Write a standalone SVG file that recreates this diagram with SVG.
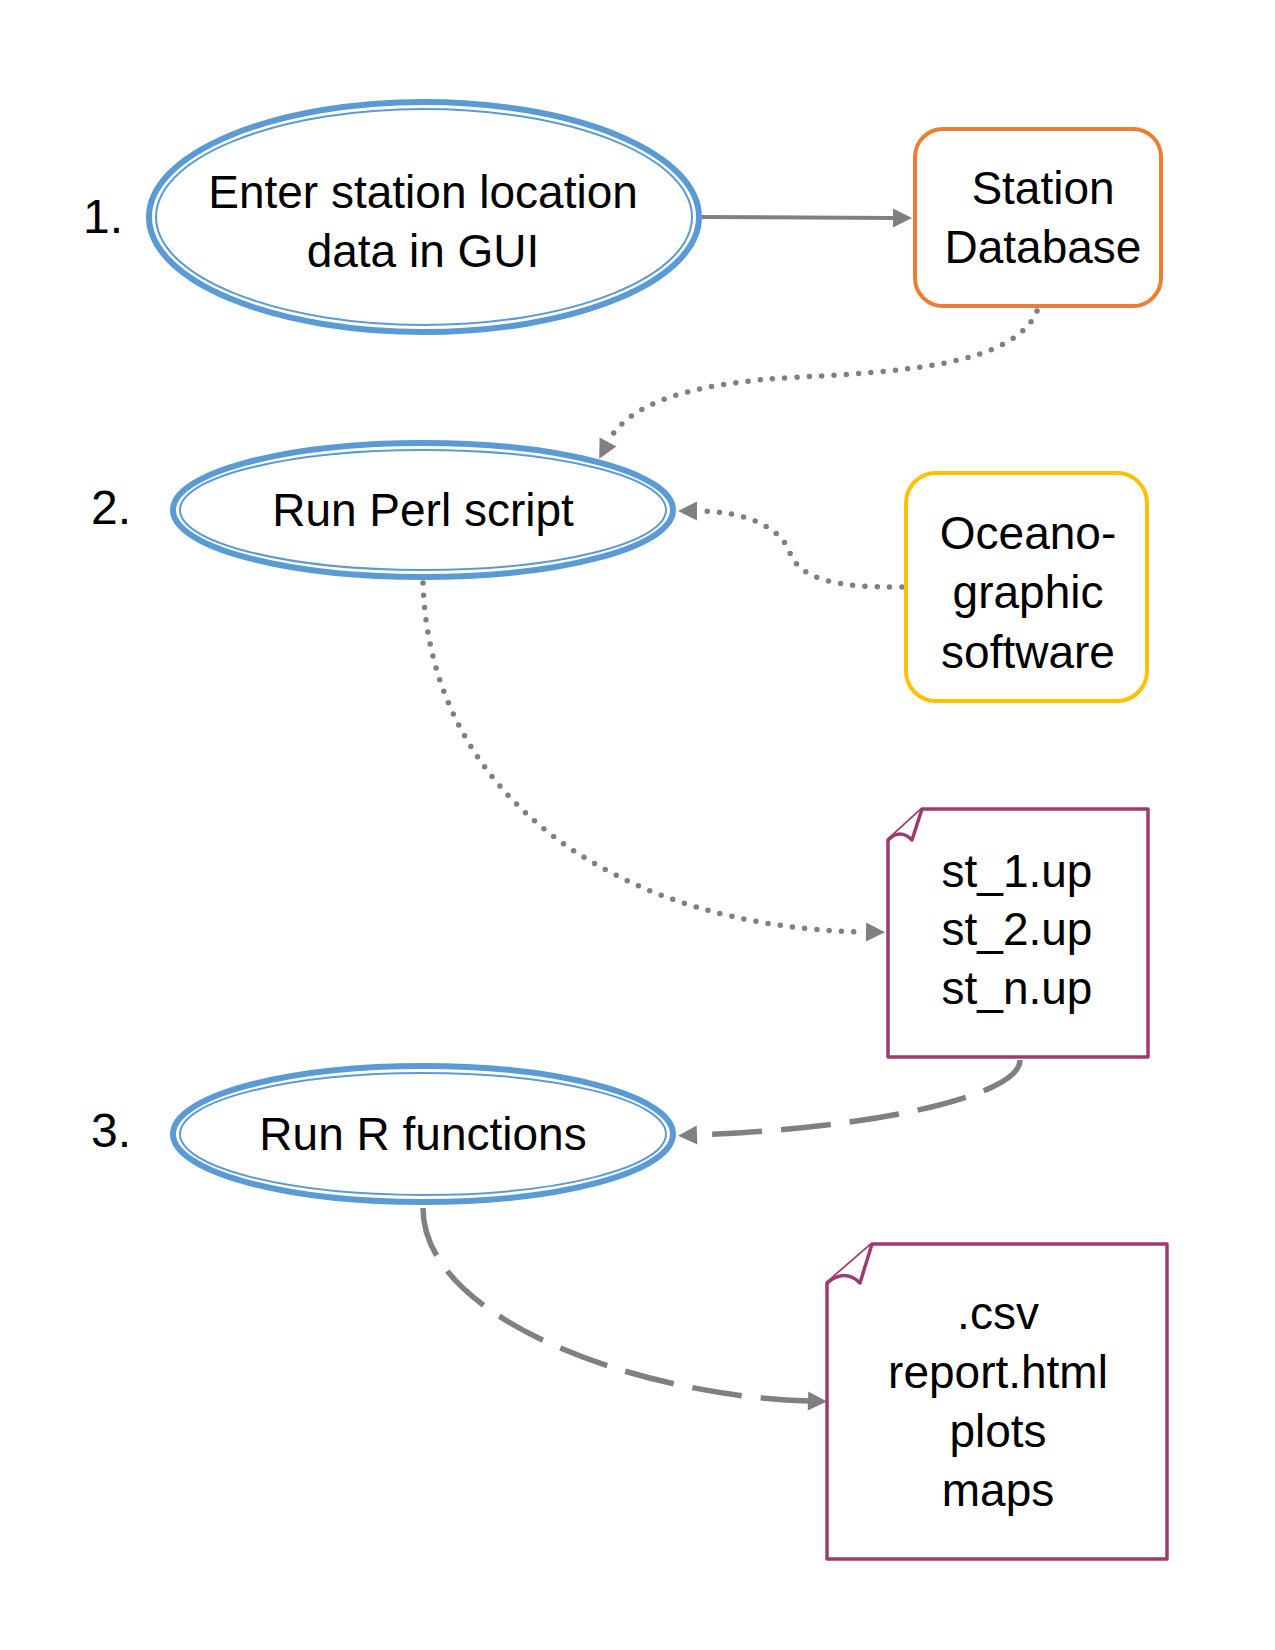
<svg xmlns="http://www.w3.org/2000/svg" width="1275" height="1650" viewBox="0 0 1275 1650">
<style>
  text { font-family: "Liberation Sans", Arial, sans-serif; fill: #000; text-anchor: middle; }
  .t { font-size: 46px; }
  .num { font-size: 48px; text-anchor: start; }
  .outer { fill: #fff; stroke: #5B9BD5; stroke-width: 6; }
  .inner { fill: none; stroke: #5B9BD5; stroke-width: 2; }
  .doc { fill: #fff; stroke: #9E3B6E; stroke-width: 3.5; stroke-linejoin: round; }
  .conn { fill: none; stroke: #808080; }
  .solid { stroke-width: 4; }
  .dot { stroke-width: 5.5; stroke-dasharray: 0 12.3; stroke-linecap: round; }
  .dash { stroke-width: 5.5; stroke-dasharray: 50 19; }
</style>
<defs>
  <marker id="arr" markerUnits="userSpaceOnUse" markerWidth="19" markerHeight="19" refX="0" refY="9.5" orient="auto" overflow="visible">
    <path d="M0,0 L19,9.5 L0,19 Z" fill="#808080"/>
  </marker>
</defs>
<rect width="1275" height="1650" fill="#fff"/>

<g id="connectors">
  <path class="conn solid" d="M702,217 L893,218" marker-end="url(#arr)"/>
  <path class="conn dot" d="M1037,311 C1015,365 900,372 800,377 C700,382 630,400 608,442" marker-end="url(#arr)"/>
  <path class="conn dot" d="M902,587 C840,588 800,580 790,553 C782,530 750,511 697,511" marker-end="url(#arr)"/>
  <path class="conn dot" d="M423,583 C430,800 620,928 866,932" marker-end="url(#arr)"/>
  <path class="conn dash" d="M1020,1060 C1020,1095 880,1128 697,1135" marker-end="url(#arr)"/>
  <path class="conn dash" d="M423,1208 C423,1320 640,1396 808,1401" marker-end="url(#arr)"/>
</g>

<g id="label-1"><text class="num" x="83" y="233">1.</text></g>
<g id="label-2"><text class="num" x="91" y="524">2.</text></g>
<g id="label-3"><text class="num" x="91" y="1147">3.</text></g>

<g id="node-enter">
  <ellipse class="outer" cx="424" cy="217" rx="275" ry="115"/>
  <ellipse class="inner" cx="424" cy="217" rx="268" ry="108"/>
  <text class="t" x="423" y="208">Enter station location</text>
  <text class="t" x="423" y="267">data in GUI</text>
</g>

<g id="node-db">
  <rect x="915" y="129" width="246" height="177" rx="28" fill="#fff" stroke="#ED7D31" stroke-width="4"/>
  <text class="t" x="1043" y="204">Station</text>
  <text class="t" x="1043" y="263">Database</text>
</g>

<g id="node-perl">
  <ellipse class="outer" cx="423" cy="510" rx="250" ry="67"/>
  <ellipse class="inner" cx="423" cy="510" rx="243" ry="60"/>
  <text class="t" x="423" y="526">Run Perl script</text>
</g>

<g id="node-ocean">
  <rect x="906" y="473" width="241" height="228" rx="30" fill="#fff" stroke="#FFC000" stroke-width="4"/>
  <text class="t" x="1028" y="549">Oceano-</text>
  <text class="t" x="1028" y="608">graphic</text>
  <text class="t" x="1028" y="668">software</text>
</g>

<g id="node-up">
  <path class="doc" d="M922,809 L1148,809 L1148,1057 L888,1057 L888,840 Z"/>
  <path class="doc" fill="none" d="M888,840 Q900,828 912,840 L922,809"/>
  <text class="t" x="1017" y="887">st_1.up</text>
  <text class="t" x="1017" y="945">st_2.up</text>
  <text class="t" x="1017" y="1004">st_n.up</text>
</g>

<g id="node-r">
  <ellipse class="outer" cx="423" cy="1134" rx="250" ry="68"/>
  <ellipse class="inner" cx="423" cy="1134" rx="243" ry="61"/>
  <text class="t" x="423" y="1150">Run R functions</text>
</g>

<g id="node-out">
  <path class="doc" d="M872,1244 L1167,1244 L1167,1559 L827,1559 L827,1283 Z"/>
  <path class="doc" fill="none" d="M827,1283 Q845,1268 860,1283 L872,1244"/>
  <text class="t" x="998" y="1329">.csv</text>
  <text class="t" x="998" y="1388">report.html</text>
  <text class="t" x="998" y="1447">plots</text>
  <text class="t" x="998" y="1506">maps</text>
</g>
</svg>
